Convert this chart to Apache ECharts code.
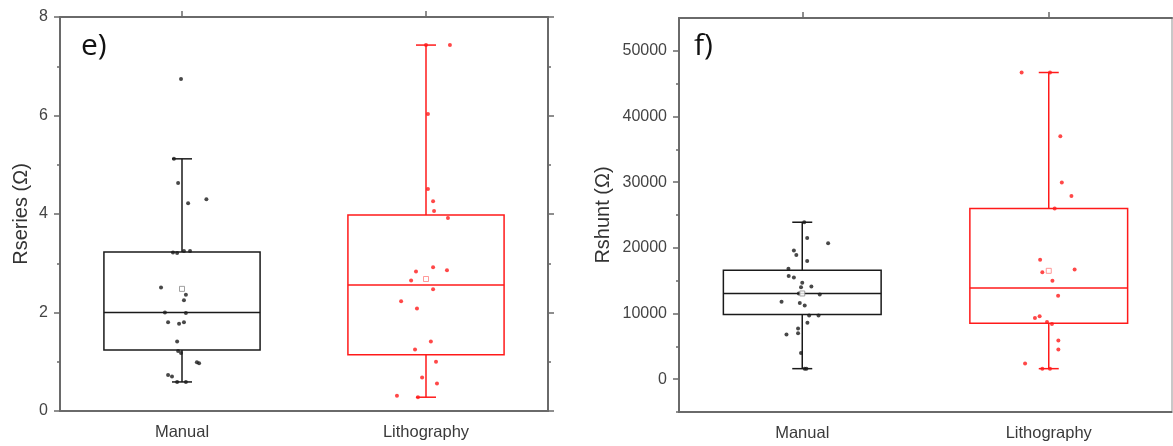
<!DOCTYPE html>
<html><head><meta charset="utf-8">
<script src="https://cdn.jsdelivr.net/npm/echarts@6/dist/echarts.min.js"></script>
<style>html,body{margin:0;padding:0;background:#fff}#c{width:1173px;height:446px}</style>
</head><body><div id="c"></div>
<script>
// ---------- data ----------
const categories = ['Manual', 'Lithography'];

// Panel e) Rseries (Ω)
const rsTicksMajor = [0, 2, 4, 6, 8];
const rsTicksMinor = [1, 3, 5, 7];
// box stats: [whiskerLow, Q1, median, Q3, whiskerHigh]
const rsManualBox = [0.59, 1.24, 2.0, 3.23, 5.12];
const rsLithoBox = [0.28, 1.14, 2.56, 3.98, 7.43];
const rsManualMean = 2.48;
const rsLithoMean = 2.68;
const rsManualPts = [6.74, 5.12, 4.63, 4.22, 4.30, 3.22, 3.21, 3.25, 3.25, 2.51, 2.36, 2.25, 2.00, 1.99, 1.80, 1.77, 1.80, 1.41, 1.22, 1.18, 0.99, 0.97, 0.73, 0.70, 0.59, 0.59];
const rsManualJit = [-0.004, -0.033, -0.016, 0.025, 0.10, -0.037, -0.02, 0.008, 0.033, -0.086, 0.016, 0.008, -0.07, 0.016, -0.057, -0.012, 0.008, -0.02, -0.016, -0.004, 0.061, 0.07, -0.057, -0.041, -0.02, 0.016];
const rsLithoPts = [7.43, 7.43, 6.03, 4.51, 4.26, 4.06, 3.92, 2.92, 2.83, 2.86, 2.65, 2.47, 2.23, 2.08, 1.41, 1.25, 1.00, 0.68, 0.56, 0.31, 0.28];
const rsLithoJit = [0, 0.098, 0.008, 0.008, 0.029, 0.033, 0.09, 0.029, -0.041, 0.086, -0.061, 0.029, -0.102, -0.037, 0.02, -0.045, 0.041, -0.016, 0.045, -0.119, -0.033];

// Panel f) Rshunt (Ω)
const shTicksMajor = [0, 10000, 20000, 30000, 40000, 50000];
const shTicksMinor = [-5000, 5000, 15000, 25000, 35000, 45000];
const shManualBox = [1600, 9850, 13050, 16600, 23900];
const shLithoBox = [1600, 8500, 13900, 26000, 46700];
const shManualMean = 13050;
const shLithoMean = 16500;
const shManualPts = [23900, 21500, 20700, 19600, 18900, 18000, 16800, 15700, 15500, 14700, 14100, 14000, 13050, 12900, 11800, 11600, 11200, 9700, 9700, 8600, 7700, 6800, 7000, 4000, 1600, 1600];
const shManualJit = [0.008, 0.02, 0.105, -0.034, -0.024, 0.02, -0.056, -0.055, -0.034, 0, 0.037, -0.005, -0.014, 0.071, -0.084, -0.01, 0.01, 0.028, 0.066, 0.021, -0.017, -0.064, -0.017, -0.005, 0.01, 0.017];
const shLithoPts = [46700, 46700, 37000, 29950, 27900, 26000, 18200, 16300, 16700, 15000, 12700, 9600, 9300, 8700, 8400, 5900, 4500, 2400, 1600, 1600];
const shLithoJit = [-0.11, 0.005, 0.047, 0.053, 0.092, 0.024, -0.035, -0.026, 0.105, 0.015, 0.038, -0.037, -0.056, -0.007, 0.013, 0.039, 0.039, -0.096, -0.026, 0.005];

// ---------- styling ----------
const FONT = 'Liberation Sans';
const AX = '#6a6a6a';
const BLACK = '#1a1a1a';
const RED = '#ff1a1a';

function boxRender(color) {
  return function (params, api) {
    const c = api.value(0);
    const lo = api.coord([c, api.value(1)]);
    const q1 = api.coord([c, api.value(2)]);
    const md = api.coord([c, api.value(3)]);
    const q3 = api.coord([c, api.value(4)]);
    const hi = api.coord([c, api.value(5)]);
    const bw = api.size([1, 0])[0] * 0.64;
    const cap = 10;
    const cx = lo[0];
    const st = { stroke: color, lineWidth: 1.5, fill: null };
    return {
      type: 'group', children: [
        { type: 'rect', shape: { x: cx - bw / 2, y: q3[1], width: bw, height: q1[1] - q3[1] }, style: { stroke: color, lineWidth: 1.5, fill: 'rgba(0,0,0,0)' } },
        { type: 'line', shape: { x1: cx - bw / 2, y1: md[1], x2: cx + bw / 2, y2: md[1] }, style: st },
        { type: 'line', shape: { x1: cx, y1: q3[1], x2: cx, y2: hi[1] }, style: st },
        { type: 'line', shape: { x1: cx, y1: q1[1], x2: cx, y2: lo[1] }, style: st },
        { type: 'line', shape: { x1: cx - cap, y1: hi[1], x2: cx + cap, y2: hi[1] }, style: st },
        { type: 'line', shape: { x1: cx - cap, y1: lo[1], x2: cx + cap, y2: lo[1] }, style: st }
      ]
    };
  };
}

function pts(values, jit, idx) {
  return values.map((v, i) => [idx + jit[i], v]);
}

function makeAxes(gi, yMin, yMax, major, minor, yName, nameGap, rightColor) {
  const xAxes = [
    { gridIndex: gi, type: 'category', data: categories, position: 'bottom',
      axisLine: { onZero: false, lineStyle: { color: AX, width: 2 } },
      axisTick: { alignWithLabel: true, length: 6, lineStyle: { color: AX, width: 1.5 } },
      axisLabel: { color: '#3a3a3a', fontSize: 16.5, fontFamily: FONT, margin: 13 } },
    { gridIndex: gi, type: 'category', data: categories, position: 'top',
      axisLine: { onZero: false, lineStyle: { color: AX, width: 2 } },
      axisTick: { show: true, alignWithLabel: true, length: 6, lineStyle: { color: AX, width: 1.5 } },
      axisLabel: { show: true, formatter: () => '' } },
    { gridIndex: gi, type: 'value', min: -0.5, max: 1.5, show: false, axisLine: { onZero: false } }
  ];
  const common = { gridIndex: gi, type: 'value', min: yMin, max: yMax, splitLine: { show: false } };
  const yAxes = [
    Object.assign({}, common, { position: 'left', name: yName, nameLocation: 'middle', nameGap: nameGap,
      nameTextStyle: { color: '#333', fontSize: 20, fontFamily: FONT },
      axisLine: { show: true, onZero: false, lineStyle: { color: AX, width: 2 } },
      axisTick: { show: true, length: 6, customValues: major, lineStyle: { color: AX, width: 1.5 } },
      axisLabel: { color: '#444', fontSize: 16, fontFamily: FONT, margin: 12, customValues: major,
        formatter: v => String(v) } }),
    Object.assign({}, common, { position: 'left',
      axisLine: { show: false, onZero: false },
      axisTick: { show: true, length: 3, customValues: minor, lineStyle: { color: AX, width: 1.5 } },
      axisLabel: { show: false } }),
    Object.assign({}, common, { position: 'right',
      axisLine: { show: true, onZero: false, lineStyle: { color: rightColor, width: 2 } },
      axisTick: { show: true, length: 6, customValues: major, lineStyle: { color: rightColor, width: 1.5 } },
      axisLabel: { show: false } }),
    Object.assign({}, common, { position: 'right',
      axisLine: { show: false, onZero: false },
      axisTick: { show: true, length: 3, customValues: minor, lineStyle: { color: rightColor, width: 1.5 } },
      axisLabel: { show: false } })
  ];
  return { xAxes, yAxes };
}

const A = makeAxes(0, 0, 8, rsTicksMajor, rsTicksMinor, 'Rseries (Ω)', 29, AX);
const B = makeAxes(1, -5000, 55000, shTicksMajor, shTicksMinor, 'Rshunt (Ω)', 66, '#c8c8c8');

function panelSeries(xBase, yBase, mBox, lBox, mMean, lMean, mPts, mJit, lPts, lJit) {
  return [
    { type: 'custom', xAxisIndex: xBase, yAxisIndex: yBase, renderItem: boxRender(BLACK),
      encode: { x: 0, y: [1, 2, 3, 4, 5] }, data: [[0].concat(mBox)], silent: true, z: 2 },
    { type: 'custom', xAxisIndex: xBase, yAxisIndex: yBase, renderItem: boxRender(RED),
      encode: { x: 0, y: [1, 2, 3, 4, 5] }, data: [[1].concat(lBox)], silent: true, z: 2 },
    { type: 'scatter', xAxisIndex: xBase + 2, yAxisIndex: yBase, symbol: 'circle', symbolSize: 4,
      itemStyle: { color: BLACK }, data: pts(mPts, mJit, 0), z: 3 },
    { type: 'scatter', xAxisIndex: xBase + 2, yAxisIndex: yBase, symbol: 'circle', symbolSize: 4,
      itemStyle: { color: RED }, data: pts(lPts, lJit, 1), z: 3 },
    { type: 'scatter', xAxisIndex: xBase + 2, yAxisIndex: yBase, symbol: 'rect', symbolSize: 5,
      itemStyle: { color: '#fff', borderColor: '#888', borderWidth: 1 }, data: [[0, mMean]], z: 4 },
    { type: 'scatter', xAxisIndex: xBase + 2, yAxisIndex: yBase, symbol: 'rect', symbolSize: 5,
      itemStyle: { color: '#fff', borderColor: '#ff8080', borderWidth: 1 }, data: [[1, lMean]], z: 4 }
  ];
}

const option = {
  animation: false,
  backgroundColor: '#fff',
  grid: [
    { left: 60, top: 17, width: 488, height: 394 },
    { left: 679, top: 18, width: 493, height: 394 }
  ],
  xAxis: A.xAxes.concat(B.xAxes),
  yAxis: A.yAxes.concat(B.yAxes),
  series: panelSeries(0, 0, rsManualBox, rsLithoBox, rsManualMean, rsLithoMean, rsManualPts, rsManualJit, rsLithoPts, rsLithoJit)
    .concat(panelSeries(3, 4, shManualBox, shLithoBox, shManualMean, shLithoMean, shManualPts, shManualJit, shLithoPts, shLithoJit)),
  graphic: [
    { type: 'text', left: 81, top: 31, style: { text: 'e)', fontSize: 30, fontFamily: 'Open Sans', fill: '#111' } },
    { type: 'text', left: 694, top: 31, style: { text: 'f)', fontSize: 30, fontFamily: 'Open Sans', fill: '#111' } }
  ]
};

const chart = echarts.init(document.getElementById('c'), null, { renderer: 'canvas' });
chart.setOption(option);
</script>
</body></html>
